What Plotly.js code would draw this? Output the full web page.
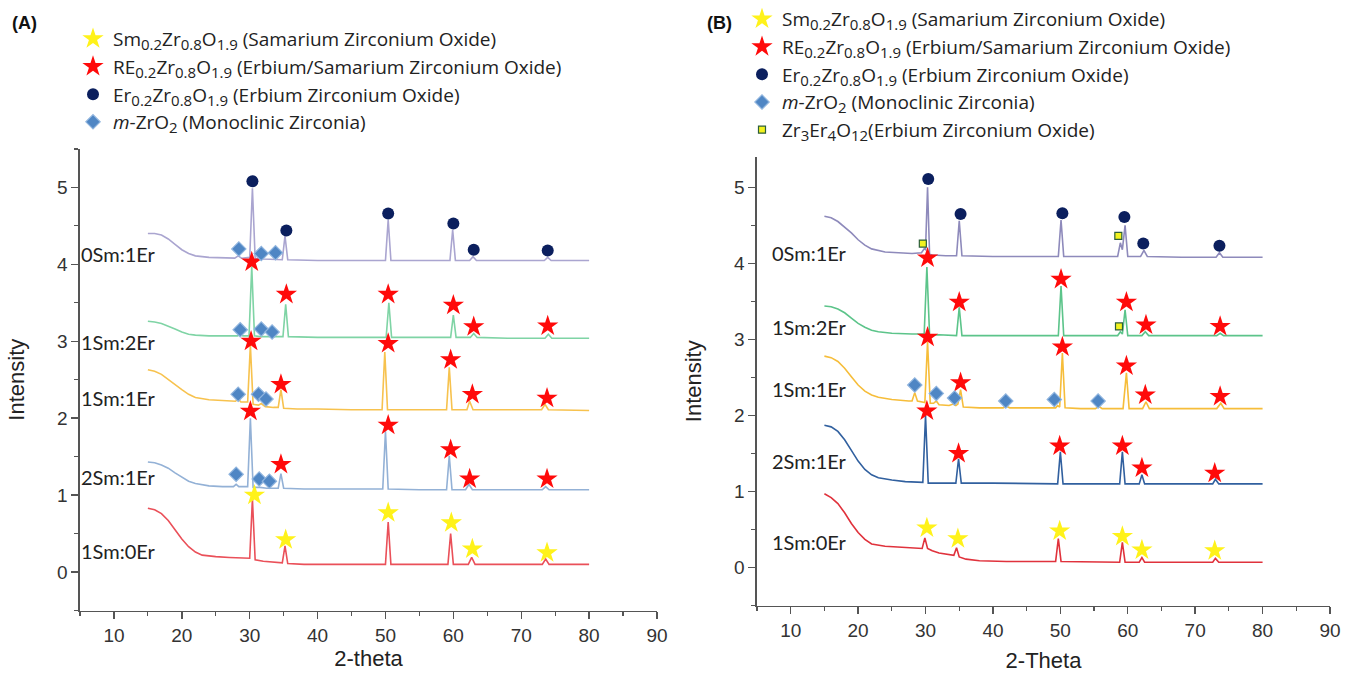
<!DOCTYPE html>
<html>
<head>
<meta charset="utf-8">
<script src="https://cdn.plot.ly/plotly-3.0.1.min.js"></script>
<style>html,body{margin:0;padding:0;background:#fff}#chart{width:1352px;height:680px}</style>
</head>
<body>
<div id="chart"></div>
<script>
// ---------------- Panel A curves ----------------
const A_0Sm1Er_x = [15,16,17,18,19,20,21,22,24,26,27.8,28.3,28.8,30.0,30.4,30.8,32,34.8,35.2,35.6,40,45,50.0,50.4,50.8,55,59.5,59.9,60.3,62.4,62.9,63.4,68,73.4,73.9,74.4,80];
const A_0Sm1Er_y = [4.40,4.40,4.38,4.33,4.26,4.19,4.14,4.11,4.09,4.08,4.08,4.11,4.08,4.09,4.99,4.08,4.07,4.06,4.37,4.06,4.05,4.05,4.05,4.58,4.05,4.05,4.05,4.45,4.05,4.05,4.10,4.05,4.05,4.05,4.09,4.05,4.05];

const A_1Sm2Er_x = [15,16,17,18,19,20,21,22,24,26,28.2,28.6,29,29.9,30.3,30.7,31.5,34.9,35.3,35.7,40,50.1,50.5,50.9,55,59.6,60.0,60.4,62.5,63.0,63.5,68,73.5,74.0,74.5,80];
const A_1Sm2Er_y = [3.26,3.25,3.23,3.20,3.16,3.12,3.09,3.08,3.07,3.07,3.07,3.09,3.07,3.07,3.97,3.07,3.06,3.06,3.48,3.06,3.05,3.05,3.50,3.05,3.05,3.05,3.34,3.05,3.05,3.10,3.05,3.04,3.04,3.09,3.04,3.04];

const A_1Sm1Er_x = [15,16,17,18,19,20,21,22,24,26,27.9,28.3,28.7,29.7,30.1,30.5,31.3,31.7,32.3,33.5,34.2,34.6,35.0,37,40,45,49.5,49.9,50.3,55,59.0,59.4,59.8,62.0,62.4,62.9,68,73.0,73.5,74.0,80];
const A_1Sm1Er_y = [2.63,2.61,2.57,2.50,2.43,2.37,2.31,2.27,2.24,2.23,2.22,2.25,2.21,2.21,2.95,2.18,2.17,2.19,2.15,2.14,2.14,2.37,2.13,2.12,2.12,2.11,2.11,2.86,2.11,2.11,2.11,2.66,2.11,2.11,2.22,2.11,2.11,2.11,2.18,2.11,2.10];

const A_2Sm1Er_x = [15,16,17,18,19,20,21,22,24,26,27.6,28.0,28.4,29.7,30.1,30.5,31.5,32.5,34.2,34.6,35.0,38,45,49.6,50.0,50.4,55,59.0,59.4,59.8,61.8,62.3,62.8,68,73.1,73.6,74.1,80];
const A_2Sm1Er_y = [1.43,1.42,1.39,1.35,1.29,1.23,1.18,1.15,1.12,1.11,1.11,1.14,1.11,1.11,2.00,1.10,1.10,1.09,1.09,1.28,1.09,1.08,1.08,1.08,1.83,1.08,1.07,1.07,1.51,1.07,1.07,1.14,1.07,1.07,1.07,1.11,1.07,1.07];

const A_1Sm0Er_x = [15,16,17,18,19,20,21,22,23,25,27,29,30.0,30.4,30.8,32,34,34.8,35.2,35.6,38,42,50.0,50.4,50.8,55,59.2,59.6,60.0,62.2,62.7,63.2,68,73.1,73.6,74.1,80];
const A_1Sm0Er_y = [0.83,0.81,0.76,0.67,0.55,0.43,0.33,0.26,0.22,0.20,0.19,0.18,0.18,0.95,0.16,0.14,0.12,0.12,0.34,0.11,0.10,0.10,0.10,0.65,0.10,0.10,0.10,0.50,0.10,0.10,0.19,0.10,0.10,0.10,0.17,0.10,0.10];

// Panel A phase markers
const A_yellowStar_x = [30.7,35.3,50.4,59.7,62.8,73.8];
const A_yellowStar_y = [1.00,0.42,0.77,0.64,0.30,0.25];
const A_redStar_x = [30.3,35.4,50.4,60.0,63.0,73.9, 30.2,34.6,50.4,59.6,62.8,73.8, 30.1,34.6,50.4,59.6,62.4,73.8];
const A_redStar_y = [4.03,3.61,3.61,3.47,3.19,3.20, 3.00,2.44,2.97,2.76,2.31,2.26, 2.09,1.40,1.91,1.59,1.21,1.21];
const A_circle_x = [30.4,35.4,50.4,60.0,63.0,73.9];
const A_circle_y = [5.08,4.44,4.66,4.53,4.19,4.18];
const A_diamond_x = [28.4,31.7,33.8, 28.6,31.7,33.3, 28.3,31.3,32.4, 28.0,31.4,32.9];
const A_diamond_y = [4.20,4.14,4.15, 3.15,3.16,3.12, 2.31,2.31,2.25, 1.27,1.21,1.18];

// ---------------- Panel B curves ----------------
const B_0Sm1Er_x = [15,16,17,18,19,20,21,22,24,26,28,29.4,29.8,30.0,30.3,30.6,31,33,34.6,35.0,35.4,40,45,49.7,50.1,50.5,55,58.5,58.9,59.2,59.6,60.0,61.9,62.4,62.9,68,73.1,73.6,74.1,80];
const B_0Sm1Er_y = [4.62,4.60,4.55,4.48,4.40,4.31,4.24,4.19,4.15,4.14,4.13,4.14,4.19,4.18,5.00,4.12,4.11,4.10,4.10,4.56,4.10,4.09,4.09,4.09,4.57,4.09,4.09,4.09,4.27,4.18,4.50,4.09,4.09,4.17,4.09,4.08,4.08,4.14,4.08,4.08];

const B_1Sm2Er_x = [15,16,17,18,19,20,21,22,23,25,28,29.8,30.2,30.6,32,34.6,35.0,35.4,40,45,49.7,50.1,50.5,55,58.5,58.9,59.2,59.6,60.0,62.1,62.6,63.1,68,73.2,73.7,74.2,80];
const B_1Sm2Er_y = [3.44,3.43,3.40,3.35,3.28,3.21,3.16,3.12,3.10,3.08,3.07,3.07,3.95,3.06,3.06,3.05,3.42,3.05,3.05,3.05,3.05,3.70,3.05,3.05,3.05,3.10,3.07,3.39,3.05,3.05,3.10,3.05,3.05,3.05,3.08,3.05,3.05];

const B_1Sm1Er_x = [15,16,17,18,19,20,21,22,23,25,27.5,28.0,28.4,28.8,29.9,30.3,30.7,31.2,31.6,32.0,33.5,34.1,34.5,34.8,35.2,35.6,38,41.5,42.0,42.5,46,49.3,49.6,49.9,50.3,50.7,53,55.2,55.7,56.2,59.3,59.8,60.2,62.2,62.7,63.2,68,73.2,73.8,74.3,80];
const B_1Sm1Er_y = [2.78,2.76,2.71,2.62,2.51,2.40,2.32,2.27,2.24,2.21,2.19,2.19,2.30,2.19,2.17,2.97,2.16,2.16,2.19,2.14,2.13,2.15,2.13,2.15,2.34,2.11,2.10,2.10,2.12,2.10,2.10,2.10,2.13,2.11,2.82,2.10,2.09,2.09,2.12,2.09,2.09,2.56,2.09,2.09,2.18,2.09,2.09,2.09,2.16,2.09,2.09];

const B_2Sm1Er_x = [15,16,17,18,19,20,21,22,23,25,27,29.6,30.0,30.4,32,34.5,34.9,35.3,40,45,49.6,50.0,50.4,55,58.8,59.2,59.6,61.7,62.1,62.5,68,72.6,73.0,73.5,80];
const B_2Sm1Er_y = [1.87,1.85,1.79,1.68,1.54,1.40,1.29,1.22,1.18,1.15,1.13,1.12,2.00,1.11,1.11,1.11,1.43,1.11,1.11,1.10,1.10,1.52,1.10,1.10,1.10,1.52,1.10,1.10,1.22,1.10,1.10,1.10,1.16,1.10,1.10];

const B_1Sm0Er_x = [15,16,17,18,19,20,21,22,24,26,28,29.5,29.9,30.3,31,32,34.2,34.6,35.0,36,38,42,49.3,49.7,50.1,55,58.8,59.2,59.6,61.7,62.1,62.5,68,72.6,73.0,73.5,80];
const B_1Sm0Er_y = [0.97,0.92,0.84,0.72,0.58,0.46,0.37,0.31,0.28,0.27,0.26,0.25,0.39,0.25,0.22,0.19,0.16,0.26,0.14,0.11,0.09,0.08,0.08,0.38,0.08,0.07,0.07,0.33,0.07,0.07,0.13,0.07,0.07,0.07,0.12,0.07,0.07];

// Panel B phase markers
const B_yellowStar_x = [30.2,34.8,49.9,59.2,62.1,72.9];
const B_yellowStar_y = [0.52,0.38,0.48,0.41,0.23,0.22];
const B_redStar_x = [30.3,35.0,50.1,59.8,62.7,73.7, 30.3,35.2,50.3,59.8,62.6,73.7, 30.2,34.9,49.9,59.2,62.1,72.9];
const B_redStar_y = [4.07,3.49,3.79,3.49,3.19,3.17, 3.03,2.43,2.90,2.65,2.27,2.25, 2.06,1.50,1.60,1.60,1.31,1.24];
const B_circle_x = [30.4,35.2,50.3,59.5,62.3,73.6];
const B_circle_y = [5.11,4.65,4.66,4.61,4.26,4.23];
const B_diamond_x = [28.4,31.6,34.3,41.9,49.1,55.6];
const B_diamond_y = [2.40,2.29,2.23,2.19,2.21,2.19];
const B_square_x = [29.6,58.6,58.7];
const B_square_y = [4.26,4.36,3.17];

// labels
const sampleLabels = ['0Sm:1Er','1Sm:2Er','1Sm:1Er','2Sm:1Er','1Sm:0Er'];
const A_labelY = [4.13,2.99,2.26,1.23,0.28];
const B_labelY = [4.14,3.16,2.35,1.40,0.33];
const xTicks = [10,20,30,40,50,60,70,80,90];
const yTicks = [0,1,2,3,4,5];

function sb(t) { return '<sub><span style="font-size:15px">' + t + '</span></sub>'; }
const legendNames = [
  'Sm' + sb('0.2') + 'Zr' + sb('0.8') + 'O' + sb('1.9') + ' (Samarium Zirconium Oxide)',
  'RE' + sb('0.2') + 'Zr' + sb('0.8') + 'O' + sb('1.9') + ' (Erbium/Samarium Zirconium Oxide)',
  'Er' + sb('0.2') + 'Zr' + sb('0.8') + 'O' + sb('1.9') + ' (Erbium Zirconium Oxide)',
  '<i>m</i>-ZrO' + sb('2') + ' (Monoclinic Zirconia)',
  'Zr' + sb('3') + 'Er' + sb('4') + 'O' + sb('12') + '(Erbium Zirconium Oxide)'
];

const colA = ['#aaa5d0','#7fd4a5','#f7c24e','#93b1d6','#ea5059'];
const colB = ['#8e8abb','#5cc48a','#f6bd3a','#31609f','#e0323c'];

function line(x, y, color, xa, ya) {
  return {type:'scatter', mode:'lines', x:x, y:y, xaxis:xa, yaxis:ya,
          line:{color:color, width:1.6}, showlegend:false, hoverinfo:'skip'};
}
function marks(x, y, sym, color, size, name, xa, ya, leg, lineCol) {
  return {type:'scatter', mode:'markers', x:x, y:y, xaxis:xa, yaxis:ya, name:name,
          legend:leg, showlegend:true,
          marker:{symbol:sym, color:color, size:size, line:{color:lineCol||color, width:lineCol?1.2:0}}};
}

const data = [
  line(A_0Sm1Er_x, A_0Sm1Er_y, colA[0], 'x', 'y'),
  line(A_1Sm2Er_x, A_1Sm2Er_y, colA[1], 'x', 'y'),
  line(A_1Sm1Er_x, A_1Sm1Er_y, colA[2], 'x', 'y'),
  line(A_2Sm1Er_x, A_2Sm1Er_y, colA[3], 'x', 'y'),
  line(A_1Sm0Er_x, A_1Sm0Er_y, colA[4], 'x', 'y'),
  line(B_0Sm1Er_x, B_0Sm1Er_y, colB[0], 'x2', 'y2'),
  line(B_1Sm2Er_x, B_1Sm2Er_y, colB[1], 'x2', 'y2'),
  line(B_1Sm1Er_x, B_1Sm1Er_y, colB[2], 'x2', 'y2'),
  line(B_2Sm1Er_x, B_2Sm1Er_y, colB[3], 'x2', 'y2'),
  line(B_1Sm0Er_x, B_1Sm0Er_y, colB[4], 'x2', 'y2'),
  marks(A_yellowStar_x, A_yellowStar_y, 'star', '#fff21a', 16, legendNames[0], 'x', 'y', 'legend'),
  marks(A_redStar_x, A_redStar_y, 'star', '#ff0a0a', 16, legendNames[1], 'x', 'y', 'legend'),
  marks(A_circle_x, A_circle_y, 'circle', '#0b1f5e', 12, legendNames[2], 'x', 'y', 'legend'),
  marks(A_diamond_x, A_diamond_y, 'diamond', '#4f86c4', 11, legendNames[3], 'x', 'y', 'legend', '#8fb4de'),
  marks(B_yellowStar_x, B_yellowStar_y, 'star', '#fff21a', 16, legendNames[0], 'x2', 'y2', 'legend2'),
  marks(B_redStar_x, B_redStar_y, 'star', '#ff0a0a', 16, legendNames[1], 'x2', 'y2', 'legend2'),
  marks(B_circle_x, B_circle_y, 'circle', '#0b1f5e', 12, legendNames[2], 'x2', 'y2', 'legend2'),
  marks(B_diamond_x, B_diamond_y, 'diamond', '#4f86c4', 11, legendNames[3], 'x2', 'y2', 'legend2', '#8fb4de'),
  marks(B_square_x, B_square_y, 'square', '#f2f21e', 7, legendNames[4], 'x2', 'y2', 'legend2', '#2c5e3a')
];

const tickFont = {family:'Liberation Sans, Arial, sans-serif', size:19, color:'#333'};
const titleFont = {family:'Liberation Sans, Arial, sans-serif', size:22, color:'#222'};
function xax(domain, anchor, title, standoff) {
  return {domain:domain, anchor:anchor, range:[5,90], tickvals:xTicks, showline:true, linecolor:'#555', linewidth:1.6,
          ticks:'outside', ticklen:7, tickwidth:1.4, tickcolor:'#555', showgrid:false, zeroline:false,
          minor:{dtick:5, tick0:5, ticks:'outside', ticklen:4, tickcolor:'#555', tickwidth:1.2, showgrid:false},
          tickfont:tickFont, title:{text:title, font:titleFont, standoff:standoff}, automargin:false};
}
function yax(domain, anchor, range, standoff) {
  return {domain:domain, anchor:anchor, range:range, tickvals:yTicks, showline:true, linecolor:'#555', linewidth:1.6,
          ticks:'outside', ticklen:7, tickwidth:1.4, tickcolor:'#555', showgrid:false, zeroline:false,
          minor:{dtick:0.5, tick0:0, ticks:'outside', ticklen:4, tickcolor:'#555', tickwidth:1.2, showgrid:false},
          tickfont:tickFont, title:{text:'Intensity', font:titleFont, standoff:standoff}, automargin:false};
}

const labFont = {family:'Lato, sans-serif', size:20, color:'#222'};
const annotations = [];
sampleLabels.forEach((t, i) => {
  annotations.push({xref:'x', yref:'y', x:5.2, y:A_labelY[i], text:t, showarrow:false, xanchor:'left', yanchor:'middle', xshift:-2, font:labFont});
  annotations.push({xref:'x2', yref:'y2', x:6.9, y:B_labelY[i], text:t, showarrow:false, xanchor:'left', yanchor:'middle', font:labFont});
});
const panelFont = {family:'Liberation Sans, Arial, sans-serif', size:18, color:'#111'};
annotations.push({xref:'paper', yref:'paper', x:10/1352, y:1-18/680, text:'<b>(A)</b>', showarrow:false, xanchor:'left', yanchor:'middle', font:panelFont});
annotations.push({xref:'paper', yref:'paper', x:705/1352, y:1-18/680, text:'<b>(B)</b>', showarrow:false, xanchor:'left', yanchor:'middle', font:panelFont});

const legFont = {family:'Open Sans, sans-serif', size:19, color:'#222'};
const layout = {
  width:1352, height:680, margin:{l:0, r:0, t:0, b:0}, paper_bgcolor:'#fff', plot_bgcolor:'#fff',
  xaxis: xax([80/1352, 657/1352], 'y', '2-theta', 0),
  yaxis: yax([70/680, 535/680], 'x', [-0.5, 5.5], 26),
  xaxis2: xax([757/1352, 1330/1352], 'y2', '2-Theta', 12),
  yaxis2: yax([75/680, 527/680], 'x2', [-0.5, 5.4], 26),
  legend: {x:73/1352, y:1-15/680, xanchor:'left', yanchor:'top', font:legFont, bgcolor:'rgba(0,0,0,0)', tracegroupgap:0},
  legend2: {x:742/1352, y:1+5/680, xanchor:'left', yanchor:'top', font:legFont, bgcolor:'rgba(0,0,0,0)', tracegroupgap:0},
  annotations: annotations
};

Plotly.newPlot('chart', data, layout, {displayModeBar:false, staticPlot:true});
</script>
</body>
</html>
